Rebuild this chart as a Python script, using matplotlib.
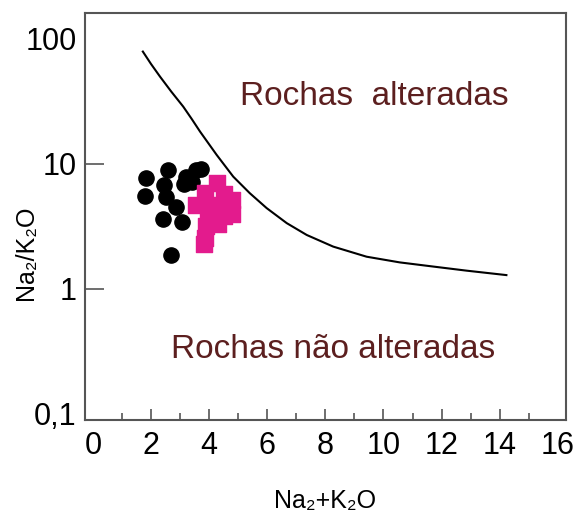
import numpy as np
import matplotlib
matplotlib.use('Agg')
import matplotlib.pyplot as plt
from matplotlib.ticker import FixedLocator, NullLocator

plt.rcParams['font.family'] = ['Liberation Sans', 'DejaVu Sans']

# boundary curve between altered and unaltered rocks
curve_x = [1.72, 2.00, 2.31, 2.70, 3.11, 3.40, 3.69, 4.26, 4.83, 5.40,
           5.98, 6.67, 7.36, 8.27, 9.42, 10.56, 11.71, 12.86, 14.23]
curve_y = [79.1, 63.0, 49.9, 37.8, 28.7, 22.9, 18.1, 11.8, 7.91, 5.83,
           4.43, 3.36, 2.70, 2.18, 1.81, 1.63, 1.51, 1.40, 1.29]

# samples, group 1 (circles)
circ_x = [1.83, 1.79, 2.58, 2.45, 2.52, 2.86, 2.41, 3.07, 2.69, 3.21,
          3.55, 3.72, 3.13, 3.41]
circ_y = [7.73, 5.55, 8.95, 6.79, 5.45, 4.53, 3.63, 3.44, 1.87, 7.87,
          8.95, 9.12, 6.92, 7.18]

# samples, group 2 (squares)
sq_x = [4.27, 3.86, 4.51, 4.79, 3.55, 4.10, 4.58, 3.96, 4.51, 4.79,
        3.89, 4.30, 3.86, 3.82]
sq_y = [7.05, 5.86, 5.75, 5.15, 4.70, 4.70, 4.45, 3.84, 3.84, 3.98,
        3.19, 3.31, 2.56, 2.29]

xticks = [0, 2, 4, 6, 8, 10, 12, 14, 16]
yticks = [0.1, 1, 10, 100]
ylabels = ['0,1', '1', '10', '100']

fig = plt.figure(figsize=(5.76, 5.13), dpi=100)
ax = fig.add_axes([0.1476, 0.1813, 0.835, 0.7934])

ax.plot(curve_x, curve_y, color='black', lw=1.5)
ax.scatter(circ_x, circ_y, s=120, marker='o', color='black', zorder=3)
ax.scatter(sq_x, sq_y, s=125, marker='s', color='#e31b8d', zorder=4)

ax.text(9.70, 34.4, 'Rochas  alteradas', fontsize=24, color='#5c1f1f',
        ha='center', va='center')
ax.text(8.26, 0.325, 'Rochas não alteradas', fontsize=24, color='#5c1f1f',
        ha='center', va='center')

ax.set_yscale('log')
ax.set_xlim(-0.27, 16.28)
ax.set_ylim(0.0895, 161)

ax.xaxis.set_major_locator(FixedLocator(xticks))
ax.xaxis.set_minor_locator(FixedLocator(np.arange(1, 16, 2)))
ax.set_xticklabels([str(t) for t in xticks])
ax.yaxis.set_major_locator(FixedLocator(yticks))
ax.yaxis.set_minor_locator(NullLocator())
ax.set_yticklabels(ylabels)

ax.tick_params(axis='x', which='major', direction='in', length=8, width=1.2,
               color='#555555', labelsize=22, pad=8)
ax.tick_params(axis='x', which='minor', direction='in', length=5, width=1.2,
               color='#555555')
ax.tick_params(axis='y', which='major', direction='in', length=14, width=1.2,
               color='#555555', labelsize=22, pad=6)

# end ticks sit on the frame, only the labels are kept
for t in (ax.xaxis.get_major_ticks()[0], ax.xaxis.get_major_ticks()[-1],
          ax.yaxis.get_major_ticks()[0], ax.yaxis.get_major_ticks()[-1]):
    t.tick1line.set_visible(False)

for sp in ax.spines.values():
    sp.set_color('#555555')
    sp.set_linewidth(1.5)

ax.set_xlabel('Na₂+K₂O', fontsize=18, va='center')
ax.xaxis.set_label_coords(0.5, -0.2)
ax.set_ylabel('Na₂/K₂O', fontsize=18, va='center')
ax.yaxis.set_label_coords(-0.122, 0.41)

fig.savefig('out.png', dpi=100)
